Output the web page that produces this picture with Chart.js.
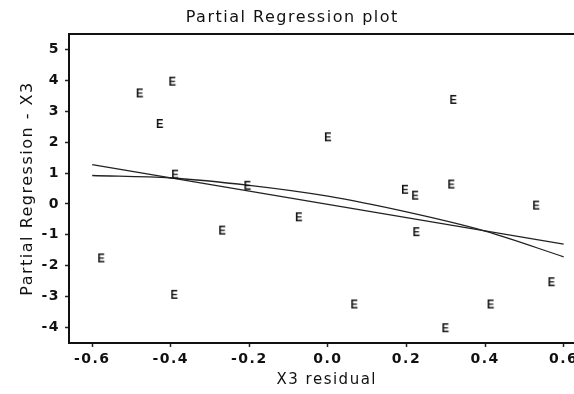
<!DOCTYPE html>
<html>
<head>
<meta charset="utf-8">
<script src="https://cdn.jsdelivr.net/npm/chart.js@4.4.1/dist/chart.umd.min.js"></script>
<style>
    html, body { margin: 0; padding: 0; background: #fff; overflow: hidden; }
    #wrap { width: 574px; height: 394px; overflow: hidden; }
</style>
</head>
<body>
<div id="wrap"><canvas id="chart" width="600" height="394"></canvas></div>
<script>
// residual points, drawn as "E"
const residX   = [-0.479, -0.396, -0.428, -0.389, -0.205, 0.319, 0.000, 0.196, 0.222, 0.314,
                  0.530, 0.225, 0.569, 0.067, 0.414, 0.299, -0.074, -0.269, -0.577, -0.391];
const partialY = [3.61, 3.99, 2.62, 0.98, 0.62, 3.40, 2.19, 0.49, 0.30, 0.66,
                  -0.02, -0.88, -2.50, -3.22, -3.22, -3.99, -0.40, -0.83, -1.73, -2.91];

// straight fit, read at both ends
const lineX = [-0.6, 0.6];
const lineY = [1.27, -1.30];

// curved fit, read every 0.2
const curveX = [-0.6, -0.4, -0.2, 0.0, 0.2, 0.4, 0.6];
const curveY = [0.92, 0.84, 0.60, 0.25, -0.26, -0.88, -1.71];

// tick labels
const xTickValues = [-0.6, -0.4, -0.2, 0.0, 0.2, 0.4, 0.6];
const yTickValues = [-4, -3, -2, -1, 0, 1, 2, 3, 4, 5];

const ink = '#111';

function makeMarker() {
    const c = document.createElement('canvas');
    c.width = 10;
    c.height = 12;
    const g = c.getContext('2d');
    g.fillStyle = ink;
    g.font = 'bold 13px "Liberation Sans", Arial, sans-serif';
    g.textAlign = 'center';
    g.textBaseline = 'alphabetic';
    g.setTransform(0.85, 0, 0, 1, 5, 0);
    g.fillText('E', 0, 10.7);
    return c;
}

const toPoints = (xs, ys) => xs.map((x, i) => ({ x: x, y: ys[i] }));

// scanned text is wide, so space the letters a bit
const spacing = {
    id: 'spacing',
    beforeDraw(chart) {
        chart.ctx.letterSpacing = '1.5px';
    }
};

// top (and right) edge of the plot box
const frame = {
    id: 'frame',
    afterDraw(chart) {
        const { ctx, chartArea: a } = chart;
        ctx.save();
        ctx.strokeStyle = ink;
        ctx.lineWidth = 2;
        ctx.beginPath();
        ctx.moveTo(a.left, a.top);
        ctx.lineTo(a.right, a.top);
        ctx.lineTo(a.right, a.bottom);
        ctx.stroke();
        ctx.restore();
    }
};

const tickFont = { family: '"DejaVu Sans", sans-serif', size: 14, weight: 'bold' };

new Chart(document.getElementById('chart'), {
    type: 'scatter',
    data: {
        datasets: [
            {
                label: 'residuals',
                data: toPoints(residX, partialY),
                pointStyle: makeMarker(),
                pointRadius: 5,
                showLine: false
            },
            {
                label: 'linear fit',
                data: toPoints(lineX, lineY),
                showLine: true,
                borderColor: '#222',
                borderWidth: 1.3,
                pointRadius: 0
            },
            {
                label: 'curve fit',
                data: toPoints(curveX, curveY),
                showLine: true,
                cubicInterpolationMode: 'monotone',
                borderColor: '#222',
                borderWidth: 1.3,
                pointRadius: 0
            }
        ]
    },
    options: {
        responsive: false,
        animation: false,
        events: [],
        layout: { padding: { left: 0, right: 15.5, top: 0, bottom: 0 } },
        plugins: {
            legend: { display: false },
            tooltip: { enabled: false },
            title: {
                display: true,
                text: 'Partial Regression plot',
                color: ink,
                font: { family: '"DejaVu Sans", sans-serif', size: 16, weight: 'normal' },
                padding: { top: 8, bottom: 6.8 }
            }
        },
        scales: {
            x: {
                type: 'linear',
                min: -0.659,
                max: 0.653,
                afterBuildTicks: (scale) => { scale.ticks = xTickValues.map(v => ({ value: v })); },
                afterFit: (scale) => { scale.height = 51; },
                grid: { display: true, drawOnChartArea: false, drawTicks: true, tickLength: 4, tickWidth: 1.5, tickColor: '#222' },
                border: { display: true, color: ink, width: 2 },
                ticks: {
                    color: ink,
                    font: tickFont,
                    padding: 4,
                    maxRotation: 0,
                    autoSkip: false,
                    callback: (v) => Number(v).toFixed(1)
                },
                title: {
                    display: true,
                    text: 'X3 residual',
                    color: ink,
                    font: { family: '"DejaVu Sans", sans-serif', size: 15, weight: 'normal' },
                    padding: { top: 0, bottom: 5 }
                }
            },
            y: {
                type: 'linear',
                min: -4.5,
                max: 5.5,
                afterBuildTicks: (scale) => { scale.ticks = yTickValues.map(v => ({ value: v })); },
                afterFit: (scale) => { scale.width = 69; },
                grid: { display: true, drawOnChartArea: false, drawTicks: true, tickLength: 4, tickWidth: 1.5, tickColor: '#222' },
                border: { display: true, color: ink, width: 2 },
                ticks: {
                    color: ink,
                    font: tickFont,
                    padding: 5,
                    autoSkip: false
                },
                title: {
                    display: true,
                    text: 'Partial Regression - X3',
                    color: ink,
                    font: { family: '"DejaVu Sans", sans-serif', size: 16, weight: 'normal' },
                    padding: { top: 18.4, bottom: 0 }
                }
            }
        }
    },
    plugins: [spacing, frame]
});
</script>
</body>
</html>
